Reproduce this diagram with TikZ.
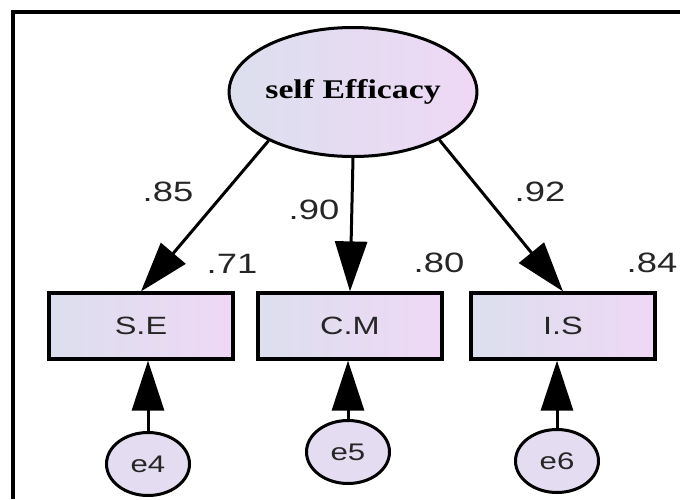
\documentclass[tikz,border=0pt]{standalone}
\usepackage{fontspec}
\setmainfont{Liberation Serif}
\setsansfont{Liberation Sans}
\newfontfamily\latfont[FakeStretch=1.25]{Liberation Serif}
\newfontfamily\estfont[FakeStretch=1.3]{Liberation Sans}
\usetikzlibrary{arrows.meta,positioning,shapes.geometric}
\definecolor{shadeL}{HTML}{DCDFEE}
\definecolor{shadeR}{HTML}{EFD8F5}
\definecolor{errFill}{HTML}{E4DDF2}
\tikzset{
  lvar/.style={ellipse, draw=black, line width=3pt, left color=shadeL, right color=shadeR, minimum width=230pt, minimum height=129pt, inner sep=0pt, font=\latfont\bfseries\fontsize{27}{30}\selectfont},
  obox/.style={rectangle, draw=black, line width=3.2pt, left color=shadeL, right color=shadeR, minimum width=184pt, minimum height=66pt, inner sep=0pt, font=\estfont\fontsize{25}{28}\selectfont, text=black!85},
  evar/.style={ellipse, draw=black, line width=3pt, fill=errFill, minimum width=83pt, minimum height=63pt, inner sep=0pt, font=\estfont\fontsize{24}{27}\selectfont, text=black!85},
  load/.style={-{Triangle[length=50pt,width=32pt]}, line width=3pt},
  est/.style={font=\estfont\fontsize{28}{30}\selectfont, text=black!85},
}

\begin{document}
\begin{tikzpicture}[x=1pt, y=-1pt]
  \useasboundingbox (0,0) rectangle (680,499);
  % frame
  \draw[line width=4pt] (13,499) -- (13,12) -- (680,12);
  % latent variable
  \node[lvar] (eff) at (353,92) {self Efficacy};
  % indicators
  \node[obox] (se) at (141,326) {S.E};
  \node[obox] (cm) at (350,326) {C.M};
  \node[obox] (is) at (563,326) {I.S};
  % errors
  \node[evar] (e4) at (148,464) {e4};
  \node[evar] (e5) at (348,452) {e5};
  \node[evar] (e6) at (557,461) {e6};
  % loadings
  \draw[load] (eff.210) -- (se.north);
  \draw[load] (eff.south) -- (cm.north);
  \draw[load] (eff.331) -- (is.north);
  \draw[load] (e4.north) -- (e4.north |- se.south);
  \draw[load] (e5.north) -- (e5.north |- cm.south);
  \draw[load] (e6.north) -- (e6.north |- is.south);
  % estimates
  \node[est] (l85) at (168,192) {.85};
  \node[est] (l90) at (314,210) {.90};
  \node[est] (l92) at (540,192) {.92};
  \node[est] (r71) at (232,264) {.71};
  \node[est] (r80) at (439,263) {.80};
  \node[est] (r84) at (652,263) {.84};
\end{tikzpicture}
\end{document}
